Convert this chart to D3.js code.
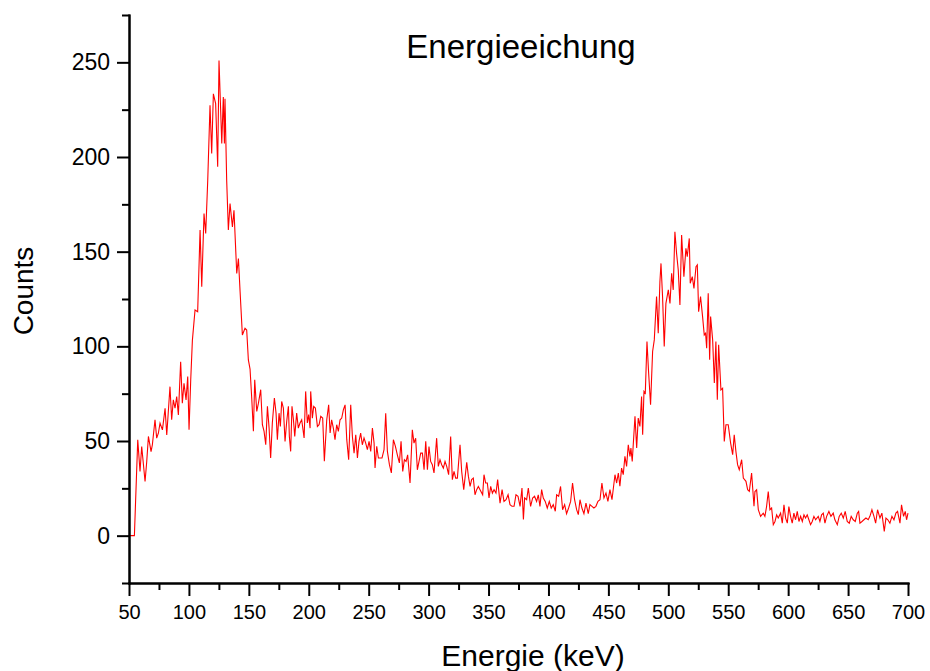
<!DOCTYPE html>
<html>
<head>
  <meta charset="UTF-8">
  <style>
    body {
      margin: 0;
      background: #fff;
      font-family: 'Liberation Sans', Arial, sans-serif;
    }
    .axis path, .axis line {
      stroke: #000;
      stroke-width: 2px;
    }
    .spectrum {
      fill: none;
      stroke: #ff0000;
      stroke-width: 1.1px;
    }
  </style>
  <script src="https://d3js.org/d3.v7.min.js"></script>
</head>
<body>
<div id="chart"></div>
<script>
// values (energy in keV, counts)
const energy = [
  50, 54.5, 57.3, 59.2, 60.6, 63.4, 64.8, 66.2, 68.4, 69.5, 71.7, 73.1, 74.5, 75.9, 77.9, 80.1,
  81.5, 84.2, 85.6, 87.0, 88.4, 89.8, 91.2, 93.1, 94.5, 95.9, 97.6, 99.0, 100.1, 101.5, 102.9,
  105.1, 107.3, 109.3, 110.7, 112.6, 114.0, 115.7, 117.6, 119.0, 120.4, 122.3, 124.0, 125.1,
  127.4, 128.7, 129.6, 130.1, 131.5, 132.9, 134.3, 136.3, 137.6, 139.9, 141.3, 142.7, 144.6,
  146.8, 148.2, 149.6,
  151.0, 152.4, 153.8, 154.9, 156.6, 158.0, 159.9, 161.3, 162.7, 164.1, 165.5, 166.9, 168.2,
  169.6, 171.3, 172.7, 173.8, 175.2, 176.3, 177.4, 178.8, 180.2, 181.6, 183.0, 183.8, 184.9,
  186.0, 187.2, 188.3, 189.9, 191.3, 192.7, 194.1, 196.1, 197.4, 198.8, 199.9, 201.1, 201.6,
  203.0, 204.1, 205.5, 207.2, 208.6, 210.0, 211.6, 213.0, 215.0, 216.6, 217.8, 219.1, 220.5,
  221.9, 223.3, 224.7, 226.1, 227.5, 228.9, 230.3, 231.7, 233.3, 235.0, 236.4, 237.8, 239.2,
  240.6, 241.9, 243.3, 244.7, 246.1, 247.5, 248.9, 250.3, 251.7, 253.1, 254.5, 255.3, 256.7,
  258.1, 259.5, 261.1, 262.8, 264.2, 265.6, 267.3, 268.9, 270.6, 272.3, 273.9, 275.6,
  277.0, 278.4, 279.8, 281.2, 282.5, 284.5, 286.4, 287.8, 289.2, 290.6, 292.0, 293.4, 294.8,
  296.2, 297.6, 299.0, 300.3, 301.7, 303.1, 304.5, 306.7, 308.1, 309.5, 310.9, 312.3, 313.7,
  315.1, 316.7, 318.4, 319.8, 321.2, 322.6, 324.0, 326.2, 327.6, 329.3, 331.8, 333.2, 334.6,
  335.9, 337.3, 338.7, 340.1, 341.5, 342.9, 345.1, 346.2, 347.6, 349.0, 350.4, 351.8, 353.2,
  354.6, 356.2, 357.6, 359.6, 361.3, 362.9, 364.6, 366.3, 367.9, 369.6, 371.3, 372.9, 374.6,
  376.3, 377.9, 379.1,
  380.1, 381.8, 383.2, 385.1, 386.8, 388.4, 390.1, 391.5, 392.9, 394.3, 395.7, 397.3, 399.0,
  400.7, 402.3, 404.0, 405.7, 406.8, 408.5, 410.1, 411.8, 413.5, 415.1, 416.8, 418.5, 420.1,
  421.8, 423.5, 424.9, 426.3, 427.9, 429.6, 431.3, 433.2, 434.6, 436.3, 437.9, 439.6, 441.3,
  443.0, 444.6, 446.3, 448.0, 449.6, 451.3, 453.0,
  455.5, 456.9, 458.3, 459.6, 461.0, 462.4, 463.8, 465.2, 466.6, 468.0, 468.8, 469.9, 472.2,
  473.6, 474.9, 476.3, 477.7, 478.6, 479.7, 480.8, 482.2, 483.6, 485.2, 486.9, 488.3, 490.2,
  491.6, 493.0, 493.9, 495.2, 496.6, 498.0, 500.0, 501.4, 502.8, 504.1, 505.5, 506.9, 508.3,
  509.7, 511.1, 513.0, 514.7, 515.8, 517.5, 518.3, 520.0, 521.4, 523.1, 524.2, 525.3, 526.9,
  528.6, 530.0, 531.1, 532.0, 533.3, 534.5, 535.3, 537.0, 538.4, 539.7, 540.9, 542.0, 543.9,
  545.3, 546.7, 548.1, 550.0, 552.0, 553.7, 555.0, 556.4, 557.8, 559.2, 561.2, 562.6, 564.8,
  566.2, 567.6, 569.5, 571.5,
  572.3, 573.7, 575.1, 577.0, 579.2, 580.6, 582.0, 583.4, 584.8, 586.2, 587.6, 589.0, 590.4,
  591.7, 593.7, 595.1, 596.5, 597.9, 599.3, 600.6, 602.0, 603.4, 604.8, 606.2, 607.6, 609.0,
  610.4, 611.8, 613.2, 614.5, 615.9, 617.3, 618.7, 620.1, 621.5, 622.9, 625.1, 626.5, 627.9,
  629.3, 630.7, 632.1, 634.0, 635.7, 637.6, 639.0, 641.0, 642.6, 644.3, 646.0, 647.6, 649.3,
  651.0, 652.6, 654.3, 656.0, 657.7, 658.8, 659.9, 661.6, 663.2, 664.9, 666.8, 668.2, 669.9,
  671.6, 673.0, 674.6, 676.6, 678.2, 680.2, 681.6, 683.2, 684.9, 686.6, 688.3, 689.9, 691.3,
  693.3, 694.6, 696.3, 697.7, 698.8, 700
];

const counts = [
  0, 0, 50.6, 33.9, 47.1, 28.6, 39.2, 52.4, 44.4, 48, 61.2, 51.5, 54.1, 59.4, 55.9, 67.3,
  53.2, 78.7, 61.2, 71.7, 67.3, 73.5, 63.8, 91.9, 69.9, 80.5, 71.7, 84, 55.9, 82.2, 103.3,
  119.2, 118.3, 161.4, 131.5, 170.2, 159.6, 187.7, 227.3, 201.8, 233.4, 228.2, 194.8, 251,
  207.1, 231.7, 207.1, 230.8, 187.7, 161.4, 175.4, 163.1, 171.9, 138.5, 146.4, 128.8, 106,
  109.5, 108.6, 92.8,
  88, 72.7, 55.1, 82.3, 65.6, 70.0, 77.1, 58.6, 55.1, 48.0, 68.3, 56.8, 41.0,
  59.5, 72.7, 64.7, 50.7, 64.7, 57.7, 70.9, 67.4, 49.8, 60.4, 68.3, 52.4, 44.5,
  68.3, 61.2, 52.4, 64.7, 56.8, 59.5, 61.2, 51.6, 76.2, 59.5, 63.9, 56.8, 76.2,
  62.1, 68.3, 67.4, 57.7, 58.6, 63.0, 62.1, 39.3, 61.2, 69.1, 54.2, 61.2, 56.8,
  50.7, 58.6, 55.1, 61.2, 62.1, 66.5, 69.1, 50.7, 40.1, 69.1, 52.4, 43.6, 53.3,
  41.0, 49.8, 54.2, 48.0, 51.6, 48.9, 45.4, 49.8, 44.5, 56.8, 48.9, 35.7, 47.2,
  41.0, 41.0, 41.0, 45.4, 64.7, 44.5, 37.5, 33.1, 50.7, 47.2, 42.7, 38.4,
  49.8, 33.9, 40.1, 39.2, 42.7, 27.8, 55.9, 48.9, 51.5, 34.8, 39.2, 43.6, 43.6,
  34.8, 49.8, 34.8, 47.1, 39.2, 37.5, 33.1, 51.5, 36.6, 40.1, 37.5, 35.7, 39.2,
  36.6, 32.2, 52.4, 29.6, 33.9, 30.4, 30.4, 48.0, 33.9, 24.3, 38.7, 31.3, 26.0,
  29.6, 30.4, 21.6, 24.3, 26.0, 24.3, 21.6, 32.2, 27.8, 27.8, 19.9, 26.0, 22.5,
  24.3, 22.5, 29.6, 17.2, 24.3, 18.1, 19.0, 21.6, 16.4, 15.5, 15.5, 21.6, 20.8,
  15.5, 25.2, 8.5,
  19.9, 19.0, 25.2, 15.5, 19.9, 20.8, 18.1, 21.6, 15.5, 24.3, 19.9, 18.1, 14.6,
  18.1, 14.6, 16.4, 12.9, 21.6, 20.8, 26.0, 13.7, 16.4, 11.6, 14.6, 18.1, 27.8,
  19.0, 13.7, 11.1, 19.0, 14.6, 11.6, 17.2, 11.6, 16.4, 15.5, 14.6, 15.5, 18.1,
  19.0, 27.8, 19.9, 22.5, 18.1, 24.3, 19.0,
  32.2, 27.8, 33.1, 26.1, 35.7, 32.2, 41.9, 36.6, 48.0, 41.9, 46.3, 39.2, 63.0,
  46.3, 62.1, 57.7, 73.5, 53.3, 76.2, 75.3, 102.5, 85.8, 69.1, 97.3, 103.4, 126.3,
  106.9, 134.2, 143.8, 126.3, 99.9, 122.7, 129.8, 122.7, 138.6, 129.8, 160.5, 149.1, 140.3,
  121.9, 158.8, 136.8, 151.8, 147.4, 157.0, 133.3, 136.8, 130.6, 142.1, 143.0, 118.3, 126.3,
  115.7, 106.0, 106.9, 99.0, 128.0, 92.9, 115.7, 103.4, 80.6, 102.5, 71.8, 100.8, 77.0,
  77.9, 49.8, 58.6, 58.6, 48.9, 42.8, 53.3, 44.5, 37.5, 34.8, 40.1, 30.4, 28.7,
  24.3, 23.4, 33.1, 15.5,
  23.3, 24.2, 13.7, 10.2, 11.9, 10.2, 15.4, 23.3, 13.7, 14.6, 5.8, 7.5, 11.0,
  9.3, 11.9, 6.6, 16.3, 9.3, 6.6, 15.4, 10.2, 6.6, 11.9, 8.4, 12.8, 7.5,
  10.2, 7.5, 11.0, 9.3, 11.0, 8.4, 5.8, 7.5, 10.2, 8.4, 10.2, 7.5, 11.0,
  11.9, 6.6, 10.2, 12.8, 10.2, 11.9, 8.4, 5.8, 10.2, 11.9, 9.3, 12.8, 7.5,
  6.6, 10.2, 8.4, 7.5, 11.9, 12.8, 6.6, 7.5, 8.4, 9.3, 8.4, 10.2, 13.7,
  10.2, 6.6, 13.7, 9.3, 11.9, 2.3, 9.3, 8.4, 6.6, 10.2, 8.4, 11.9, 12.8,
  6.6, 16.3, 10.2, 12.8, 8.4, 11.9
];

const xMajorTicks = [50, 100, 150, 200, 250, 300, 350, 400, 450, 500, 550, 600, 650, 700];
const xMinorTicks = [75, 125, 175, 225, 275, 325, 375, 425, 475, 525, 575, 625, 675];
const yMajorTicks = [0, 50, 100, 150, 200, 250];
const yMinorTicks = [-25, 25, 75, 125, 175, 225, 275];

const width = 930, height = 671;
const margin = {top: 15, right: 22, bottom: 88, left: 129};

const svg = d3.select('#chart').append('svg')
  .attr('width', width)
  .attr('height', height);

const x = d3.scaleLinear()
  .domain([50, 700])
  .range([margin.left, width - margin.right]);

const y = d3.scaleLinear()
  .domain([-25, 275])
  .range([height - margin.bottom, margin.top]);

const points = energy.map((e, i) => [e, counts[i]]);

const line = d3.line()
  .x(d => x(d[0]))
  .y(d => y(d[1]));

svg.append('path')
  .datum(points)
  .attr('class', 'spectrum')
  .attr('d', line);

// minor ticks first, then major axes with labels
svg.append('g')
  .attr('class', 'axis')
  .attr('transform', `translate(0,${y(-25)})`)
  .call(d3.axisBottom(x).tickValues(xMinorTicks).tickSize(7).tickSizeOuter(0).tickFormat(''));

svg.append('g')
  .attr('class', 'axis')
  .attr('transform', `translate(${x(50)},0)`)
  .call(d3.axisLeft(y).tickValues(yMinorTicks).tickSize(7).tickSizeOuter(0).tickFormat(''));

const xAxis = svg.append('g')
  .attr('class', 'axis')
  .attr('transform', `translate(0,${y(-25)})`)
  .call(d3.axisBottom(x).tickValues(xMajorTicks).tickSize(13).tickSizeOuter(0).tickPadding(9));

xAxis.selectAll('text')
  .style('font-family', "'Liberation Sans', Arial, sans-serif")
  .style('font-size', '20px')
  .attr('fill', '#000');

const yAxis = svg.append('g')
  .attr('class', 'axis')
  .attr('transform', `translate(${x(50)},0)`)
  .call(d3.axisLeft(y).tickValues(yMajorTicks).tickSize(12).tickSizeOuter(0).tickPadding(7));

yAxis.selectAll('text')
  .style('font-family', "'Liberation Sans', Arial, sans-serif")
  .style('font-size', '23px')
  .attr('fill', '#000');

svg.selectAll('.axis .domain').attr('stroke-linecap', 'square');

// title and axis labels
svg.append('text')
  .attr('x', 521)
  .attr('y', 58)
  .attr('text-anchor', 'middle')
  .style('font-size', '33px')
  .text('Energieeichung');

svg.append('text')
  .attr('x', 533)
  .attr('y', 666)
  .attr('text-anchor', 'middle')
  .style('font-size', '30px')
  .text('Energie (keV)');

svg.append('text')
  .attr('transform', 'translate(33,291) rotate(-90)')
  .attr('text-anchor', 'middle')
  .style('font-size', '28px')
  .text('Counts');
</script>
</body>
</html>
